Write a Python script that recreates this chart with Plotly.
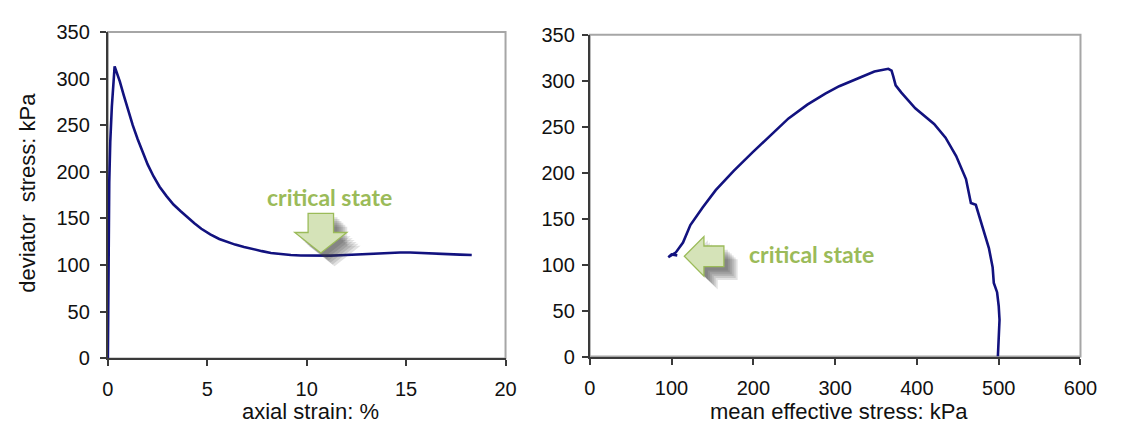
import plotly.graph_objects as go

# Undrained triaxial test: stress–strain curve and effective stress path
axial_strain = [0, 0.02, 0.04, 0.07, 0.12, 0.2, 0.34, 0.45, 0.6, 0.8, 1.0, 1.25, 1.5,
                1.75, 2.0, 2.3, 2.6, 2.95, 3.3, 3.65, 4.0, 4.35, 4.7, 5.15, 5.6, 6.0,
                6.4, 6.85, 7.3, 7.75, 8.2, 8.7, 9.2, 9.7, 10.2, 10.7, 11.2, 11.7, 12.2,
                12.7, 13.2, 13.7, 14.2, 14.7, 15.2, 15.7, 16.2, 16.7, 17.2, 17.7, 18.3]
deviator_stress = [0, 60, 105, 189, 232, 270, 313, 307, 297, 282, 267, 250, 235,
                   221, 208, 195, 184, 174, 165, 158, 151, 145, 139, 133, 128, 125,
                   122, 119.5, 117, 115, 113, 111.8, 110.9, 110.3, 110, 110, 110.2, 110.6, 111.1,
                   111.7, 112.3, 112.9, 113.3, 113.5, 113.5, 113.2, 112.8, 112.3, 111.8, 111.3, 110.8]

mean_eff_stress = [499, 500, 501, 500, 499, 498, 494, 492.6, 488, 480, 472, 466, 460,
                   448, 435, 421, 398, 381, 374, 371, 369, 365, 358, 348, 332, 305,
                   288, 266, 243, 221, 199, 176, 154, 138, 123, 114, 105, 96, 100, 107]
path_deviator = [0, 15, 40, 55, 65, 70, 80, 97, 118, 142, 165, 167, 193,
                 218, 238, 253, 270, 287, 295, 305, 311, 313, 312, 310, 304, 294,
                 286, 274, 259, 241, 222, 202, 181, 162, 143, 124, 113, 108, 111, 110]

x1_ticks = [0, 5, 10, 15, 20]
x2_ticks = [0, 100, 200, 300, 400, 500, 600]
y_ticks = [0, 50, 100, 150, 200, 250, 300, 350]

LINE = "#12127f"
GREEN_TEXT = "#9bbb59"
GREEN_FILL = "#d5e3b8"
AXIS = "#3a3a3a"
FRAME = "#a6a6a6"
TICK_FONT = dict(family="Liberation Sans, Arial, sans-serif", size=20, color="#111")
TITLE_FONT = dict(family="Liberation Sans, Arial, sans-serif", size=22, color="#111")
LABEL_FONT = dict(family="Lato, Open Sans, sans-serif", size=23, color=GREEN_TEXT)

W, H = 1121, 434
# plot areas in pixels: (left, right, top, bottom)
P1 = (104, 510, 22, 366)
P2 = (596, 1097, 25, 364)


def dom_x(p):
    return [p[0] / W, p[1] / W]


def dom_y(p):
    return [1 - p[3] / H, 1 - p[2] / H]


fig = go.Figure()
fig.add_trace(go.Scatter(x=axial_strain, y=deviator_stress, mode="lines",
                         line=dict(color=LINE, width=2.6), xaxis="x", yaxis="y",
                         showlegend=False))
fig.add_trace(go.Scatter(x=mean_eff_stress, y=path_deviator, mode="lines",
                         line=dict(color=LINE, width=2.6), xaxis="x2", yaxis="y2",
                         showlegend=False))


def axis_common(ticks, rng):
    return dict(range=rng, tickvals=ticks, ticks="outside", ticklen=6, tickwidth=1.5,
                tickcolor=AXIS, showline=True, linecolor=AXIS, linewidth=2,
                showgrid=False, zeroline=False, tickfont=TICK_FONT, fixedrange=True)


fig.update_layout(
    width=W, height=H, margin=dict(l=0, r=0, t=0, b=0),
    paper_bgcolor="white", plot_bgcolor="white",
    xaxis=dict(domain=dom_x(P1), anchor="y", ticklabelstandoff=6,
               **axis_common(x1_ticks, [0, 20])),
    yaxis=dict(domain=dom_y(P1), anchor="x", ticklabelstandoff=6,
               **axis_common(y_ticks, [0, 350])),
    xaxis2=dict(domain=dom_x(P2), anchor="y2", ticklabelstandoff=6,
                **axis_common(x2_ticks, [0, 600])),
    yaxis2=dict(domain=dom_y(P2), anchor="x2", ticklabelstandoff=3,
                **axis_common(y_ticks, [0, 350])),
)

# light frame on top/right of each plot area
for xr, yr in (("x", "y"), ("x2", "y2")):
    fig.add_shape(type="rect", xref=f"{xr} domain", yref=f"{yr} domain",
                  x0=0, x1=1, y0=0, y1=1, line=dict(color=FRAME, width=2),
                  layer="below")


def down_arrow(tip_x, tip_y, head_half, head_h, shaft_half, shaft_h, dx=0, dy=0):
    x, y = tip_x + dx, tip_y + dy
    pts = [(x, y), (x - head_half, y + head_h), (x - shaft_half, y + head_h),
           (x - shaft_half, y + head_h + shaft_h), (x + shaft_half, y + head_h + shaft_h),
           (x + shaft_half, y + head_h), (x + head_half, y + head_h)]
    return "M " + " L ".join(f"{a},{b}" for a, b in pts) + " Z"


def left_arrow(tip_x, tip_y, head_w, head_half, shaft_half, shaft_w, dx=0, dy=0):
    x, y = tip_x + dx, tip_y + dy
    pts = [(x, y), (x + head_w, y + head_half), (x + head_w, y + shaft_half),
           (x + head_w + shaft_w, y + shaft_half), (x + head_w + shaft_w, y - shaft_half),
           (x + head_w, y - shaft_half), (x + head_w, y - head_half)]
    return "M " + " L ".join(f"{a},{b}" for a, b in pts) + " Z"


# soft drop shadows (offsets in pixels converted to axis units)
sx1, sy1 = 20 / (P1[1] - P1[0]), 350 / (P1[3] - P1[2])
sx2, sy2 = 600 / (P2[1] - P2[0]), 350 / (P2[3] - P2[2])
for k in (4, 6, 8, 10, 12, 14):
    fig.add_shape(type="path", xref="x", yref="y",
                  path=down_arrow(10.71, 113, 1.31, 22, 0.64, 20.5,
                                  dx=k * sx1, dy=-k * sy1),
                  fillcolor="#3a3a3a", opacity=0.15, line=dict(width=0))
    fig.add_shape(type="path", xref="x2", yref="y2",
                  path=left_arrow(115.6, 109, 24, 21.5, 11.2, 24.4,
                                  dx=k * sx2, dy=-k * sy2),
                  fillcolor="#3a3a3a", opacity=0.15, line=dict(width=0))

fig.add_shape(type="path", xref="x", yref="y",
              path=down_arrow(10.71, 113, 1.31, 22, 0.64, 20.5),
              fillcolor=GREEN_FILL, line=dict(color=GREEN_TEXT, width=1.3))
fig.add_shape(type="path", xref="x2", yref="y2",
              path=left_arrow(115.6, 109, 24, 21.5, 11.2, 24.4),
              fillcolor=GREEN_FILL, line=dict(color=GREEN_TEXT, width=1.3))

fig.add_annotation(x=11.15, y=172.6, xref="x", yref="y", text="<b>critical state</b>",
                   showarrow=False, font=LABEL_FONT, xanchor="center", yanchor="middle")
fig.add_annotation(x=270.5, y=111.8, xref="x2", yref="y2", text="<b>critical state</b>",
                   showarrow=False, font=LABEL_FONT, xanchor="center", yanchor="middle")

# axis titles
fig.add_annotation(x=311 / W, y=1 - 422 / H, xref="paper", yref="paper",
                   text="axial strain: %", showarrow=False, font=TITLE_FONT,
                   xanchor="center", yanchor="middle")
fig.add_annotation(x=850 / W, y=1 - 422 / H, xref="paper", yref="paper",
                   text="mean effective stress: kPa", showarrow=False, font=TITLE_FONT,
                   xanchor="center", yanchor="middle")
fig.add_annotation(x=22 / W, y=1 - 192 / H, xref="paper", yref="paper",
                   text="deviator  stress: kPa", showarrow=False, textangle=-90,
                   font=TITLE_FONT, xanchor="center", yanchor="middle")

fig.write_html("out.html")
